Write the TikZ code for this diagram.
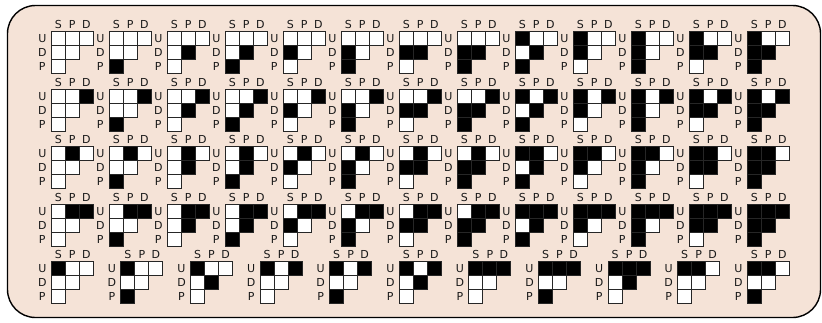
\documentclass[tikz,border=0pt]{standalone}
\usepackage{fontspec}
\setmainfont{DejaVu Sans}
\definecolor{bgc}{RGB}{245,227,215}
\colorlet{c0}{white}
\colorlet{c1}{black}
\tikzset{
  frame/.style={draw=black, line width=1.4pt, fill=bgc, rounded corners=28pt},
  cell/.style={draw=black!85, line width=1.1pt},
  lbl/.style={inner sep=0pt, font=\fontsize{11}{11}\selectfont, text=black!90},
}
% #1 id, #2 X, #3 Y, #4..#9 = US UP UD DS DP PS (0/1)
\newcommand\gly[9]{%
  \draw[cell, fill=c#4] (#2,#3) rectangle ++(14,14);
  \draw[cell, fill=c#5] (#2+14,#3) rectangle ++(14,14);
  \draw[cell, fill=c#6] (#2+28,#3) rectangle ++(14,14);
  \draw[cell, fill=c#7] (#2,#3+14) rectangle ++(14,14);
  \draw[cell, fill=c#8] (#2+14,#3+14) rectangle ++(14,14);
  \draw[cell, fill=c#9] (#2,#3+28) rectangle ++(14,14);
  \node[lbl] (#1cS) at (#2+7,#3-7) {S};
  \node[lbl] (#1cP) at (#2+21,#3-7) {P};
  \node[lbl] (#1cD) at (#2+35,#3-7) {D};
  \node[lbl] (#1rU) at (#2-9,#3+7) {U};
  \node[lbl] (#1rD) at (#2-9,#3+21) {D};
  \node[lbl] (#1rP) at (#2-9,#3+35) {P};
}
\begin{document}
\begin{tikzpicture}[x=1pt,y=-1pt]
\useasboundingbox (0,0) rectangle (822,322);
\draw[frame] (7.5,5.5) rectangle (820.5,317.5);
\foreach \r/\bb/\cc in {0/0/0,1/0/1,2/1/0,3/1/1} {
  \foreach \aa/\dd/\ee/\ff [count=\k from 0] in
    {0/0/0/0,0/0/0/1,0/0/1/0,0/0/1/1,0/1/0/0,0/1/0/1,0/1/1/0,0/1/1/1,
     1/0/1/1,1/1/0/0,1/1/0/1,1/1/1/0,1/1/1/1} {
    \gly{r\r k\k}{51.3+58*\k}{31.7+57.5*\r}{\aa}{\bb}{\cc}{\dd}{\ee}{\ff}
  }
}
\foreach \aa/\bb/\cc/\dd/\ee/\ff [count=\k from 0] in
  {1/0/0/0/0/0,1/0/0/0/0/1,1/0/0/0/1/0,1/0/1/0/0/0,1/0/1/0/0/1,1/0/1/0/1/0,
   1/1/1/0/0/0,1/1/1/0/0/1,1/1/1/0/1/0,1/1/0/0/0/0,1/1/0/0/0/1} {
  \gly{r4k\k}{51.3+69.6*\k}{261.8}{\aa}{\bb}{\cc}{\dd}{\ee}{\ff}
}
\end{tikzpicture}
\end{document}
